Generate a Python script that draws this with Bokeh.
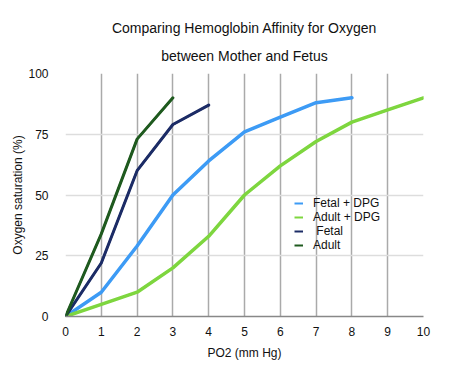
from bokeh.plotting import figure
from bokeh.models import Legend, LegendItem, FixedTicker, Range1d, Title
from bokeh.embed import file_html
from bokeh.resources import INLINE

# Data
fetal_dpg_x = [0, 1, 2, 3, 4, 5, 6, 7, 8]
fetal_dpg_y = [0, 10, 29, 50, 64, 76, 82, 88, 90]
adult_dpg_x = [0, 1, 2, 3, 4, 5, 6, 7, 8, 9, 10]
adult_dpg_y = [0, 5, 10, 20, 33, 50, 62, 72, 80, 85, 90]
fetal_x = [0, 1, 2, 3, 4]
fetal_y = [0, 22, 60, 79, 87]
adult_x = [0, 1, 2, 3]
adult_y = [0, 34, 73, 90]
x_ticks = [0, 1, 2, 3, 4, 5, 6, 7, 8, 9, 10]
y_ticks = [0, 25, 50, 75, 100]
names = ["Fetal + DPG", "Adult + DPG", " Fetal", "Adult"]
colors = ["#3d9bf5", "#7ed63f", "#1c2c66", "#1f5a1f"]
title_lines = ["Comparing Hemoglobin Affinity for Oxygen", "between Mother and Fetus"]

FONT = "Liberation Sans"

p = figure(width=450, height=374, output_backend="svg", toolbar_location=None,
           x_range=Range1d(0, 10), y_range=Range1d(0, 100),
           min_border_left=65, min_border_right=27, min_border_top=73, min_border_bottom=58)
p.outline_line_color = None

t2 = Title(text=title_lines[1], align="center", text_font=FONT,
           text_font_size="14px", text_font_style="normal", text_color="#111111",
           standoff=20, text_line_height=0.9)
t1 = Title(text=title_lines[0], align="center", text_font=FONT,
           text_font_size="14px", text_font_style="normal", text_color="#111111",
           standoff=0, text_line_height=0.9)
p.add_layout(t2, "above")
p.add_layout(t1, "above")

p.xaxis.ticker = FixedTicker(ticks=x_ticks)
p.yaxis.ticker = FixedTicker(ticks=y_ticks)
p.xaxis.axis_label = "PO2 (mm Hg)"
p.yaxis.axis_label = "Oxygen saturation (%)"
for ax in (p.xaxis, p.yaxis):
    ax.axis_label_text_font = FONT
    ax.axis_label_text_font_size = "12px"
    ax.axis_label_text_font_style = "normal"
    ax.axis_label_text_color = "#111111"
    ax.major_label_text_font = FONT
    ax.major_label_text_font_size = "12px"
    ax.major_label_text_color = "#111111"
    ax.major_tick_line_color = None
    ax.minor_tick_line_color = None
p.xaxis.axis_line_color = "#888888"
p.xaxis.axis_line_width = 1.5
p.yaxis.axis_line_color = None
p.xaxis.major_label_standoff = 4
p.yaxis.major_label_standoff = 11
p.xaxis.axis_label_standoff = 7
p.yaxis.axis_label_standoff = 0

p.xgrid.grid_line_color = "#aaaaaa"
p.xgrid.grid_line_width = 1.5
p.ygrid.grid_line_color = "#dddddd"
p.ygrid.grid_line_width = 1.5

series = [(fetal_dpg_x, fetal_dpg_y), (adult_dpg_x, adult_dpg_y), (fetal_x, fetal_y), (adult_x, adult_y)]
widths = [3.5, 3.5, 3, 3]
swatches = []
for (xs, ys), c, w in zip(series, colors, widths):
    p.line(xs, ys, line_color=c, line_width=w, line_join="round", line_cap="round")
    # thin copy hidden under the thick line, used as the legend swatch
    swatches.append(p.line(xs, ys, line_color=c, line_width=2, line_join="round"))

legend = Legend(items=[LegendItem(label=n, renderers=[s]) for n, s in zip(names, swatches)],
    location=(229, 64), background_fill_alpha=0, border_line_color=None,
    label_text_font=FONT, label_text_font_size="12px", label_text_color="#111111",
    glyph_width=9, glyph_height=10, label_height=10, spacing=0, padding=4, margin=0,
    label_standoff=10)
p.add_layout(legend, "center")

open("out.html", "w").write(file_html(p, INLINE))
